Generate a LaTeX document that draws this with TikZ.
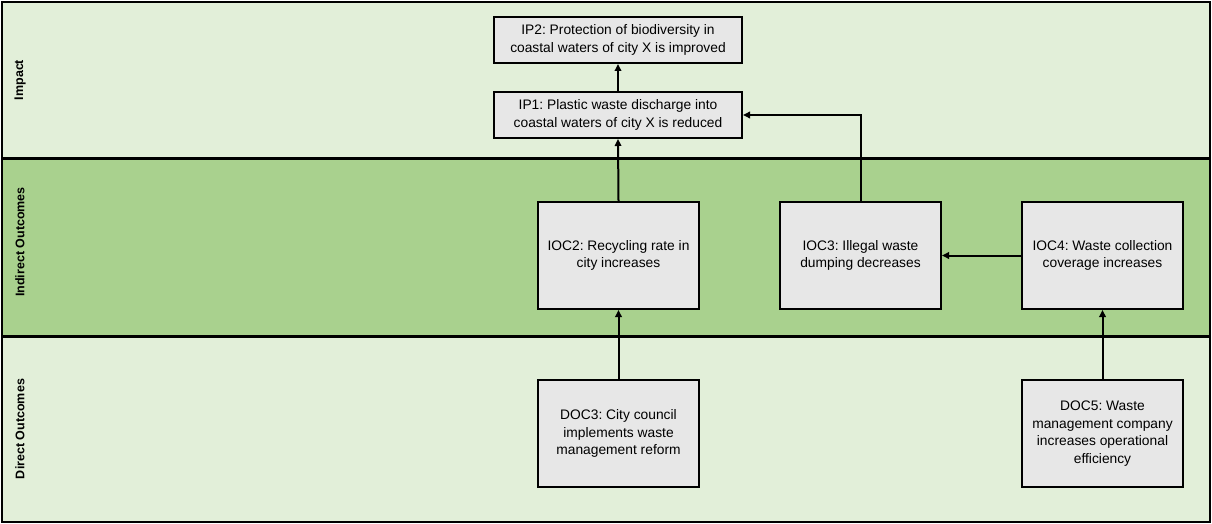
\documentclass[tikz,border=0pt]{standalone}
\usepackage{fontspec}
\setmainfont{Liberation Sans}
\usetikzlibrary{arrows.meta}
\frenchspacing
\definecolor{lightband}{HTML}{E2EFD9}
\definecolor{darkband}{HTML}{A9D18E}
\definecolor{boxfill}{HTML}{E7E7E7}
\tikzset{
  box/.style={draw=black, line width=2pt, fill=boxfill, align=center, font=\fontsize{13.8}{17.5}\selectfont, inner sep=0pt},
  conn/.style={line width=2pt, -{Triangle[length=7pt,width=6.5pt]}},
  bandlabel/.style={rotate=90, font=\bfseries\fontsize{12.5}{15}\selectfont}
}
\begin{document}
\begin{tikzpicture}[x=1pt,y=-1pt]
\useasboundingbox (0,0) rectangle (1212,524);
% bands
\fill[lightband] (2,2) rectangle (1210,158);
\fill[darkband] (2,158) rectangle (1210,336);
\fill[lightband] (2,336) rectangle (1210,522);
\draw[line width=3pt] (2,158) -- (1210,158);
\draw[line width=3pt] (2,336) -- (1210,336);
\draw[line width=2pt] (2,2) rectangle (1210,522);
\node[bandlabel] (limpact) at (20,80) {Impact};
\node[bandlabel] (lind) at (20,242) {Indirect Outcomes};
\node[bandlabel] (ldir) at (20,429) {Direct Outcomes};
% boxes
\node[box, minimum width=248pt, minimum height=46pt] (ip2) at (618,40) {IP2: Protection of biodiversity in\\coastal waters of city X is improved};
\node[box, minimum width=248pt, minimum height=46pt] (ip1) at (618,115) {IP1: Plastic waste discharge into\\coastal waters of city X is reduced};
\node[box, minimum width=161pt, minimum height=107pt] (ioc2) at (618.5,255.5) {IOC2: Recycling rate in\\city increases};
\node[box, minimum width=161pt, minimum height=107pt] (ioc3) at (860.5,255.5) {IOC3: Illegal waste\\dumping decreases};
\node[box, minimum width=161pt, minimum height=107pt] (ioc4) at (1102.5,255.5) {IOC4: Waste collection\\coverage increases};
\node[box, minimum width=161pt, minimum height=107pt] (doc3) at (618.5,433.5) {DOC3: City council\\implements waste\\management reform};
\node[box, minimum width=161pt, minimum height=107pt] (doc5) at (1102.5,433.5) {DOC5: Waste\\management company\\increases operational\\efficiency};
% connectors
\draw[conn] (ip1.north) -- (ip2.south);
\draw[conn] (ioc2.north) -- (ip1.south);
\draw[conn] (ioc3.north) |- (ip1.east);
\draw[conn] (ioc4.west) -- (ioc3.east);
\draw[conn] (doc3.north) -- (ioc2.south);
\draw[conn] (doc5.north) -- (ioc4.south);
\end{tikzpicture}
\end{document}
